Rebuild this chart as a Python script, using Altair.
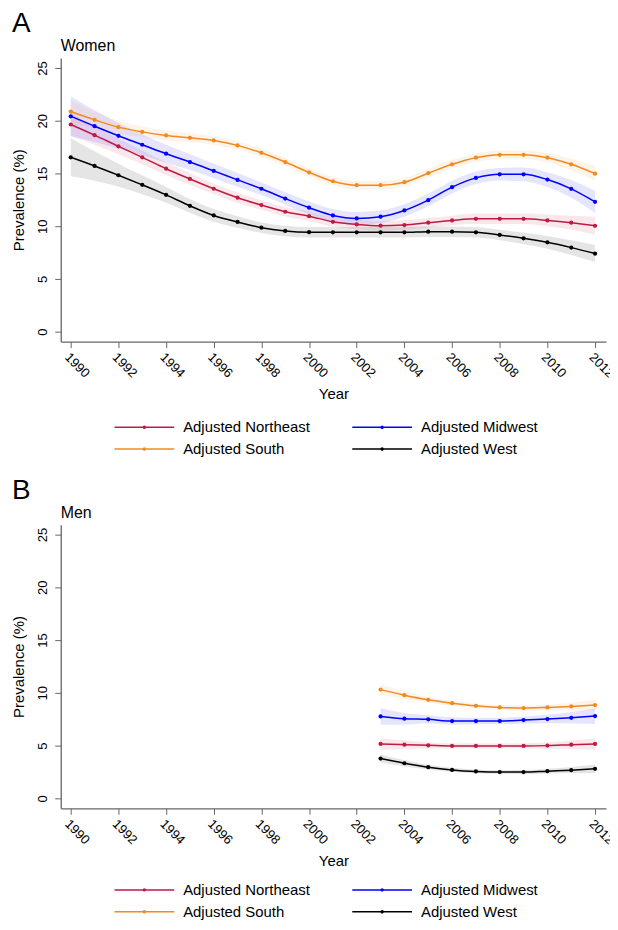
import altair as alt
import pandas as pd

# ---------------- data ----------------
labels = ["Adjusted Northeast", "Adjusted Midwest", "Adjusted South", "Adjusted West"]
colors = ["#be1a44", "#0000ff", "#f28a1e", "#000000"]

years_women = list(range(1990, 2013))
women_ne = [19.64, 18.63, 17.57, 16.53, 15.45, 14.48, 13.55, 12.70, 12.00, 11.37, 10.95,
            10.42, 10.17, 10.05, 10.11, 10.33, 10.55, 10.70, 10.70, 10.70, 10.55, 10.33, 10.04]
women_mw = [20.42, 19.48, 18.57, 17.72, 16.87, 16.08, 15.24, 14.39, 13.55, 12.62, 11.75,
            11.02, 10.74, 10.90, 11.49, 12.47, 13.70, 14.58, 14.92, 14.92, 14.42, 13.54, 12.31]
women_s = [20.87, 20.08, 19.39, 18.94, 18.60, 18.38, 18.13, 17.66, 16.96, 16.08, 15.10,
           14.26, 13.89, 13.89, 14.17, 15.02, 15.87, 16.49, 16.77, 16.77, 16.49, 15.87, 14.98]
women_w = [16.53, 15.71, 14.83, 13.92, 12.97, 11.93, 11.02, 10.40, 9.86, 9.55, 9.43,
           9.42, 9.42, 9.42, 9.42, 9.48, 9.48, 9.42, 9.17, 8.85, 8.47, 7.97, 7.41]
# half-widths of the confidence bands (read from the shading)
women_ne_hw = [1.1, 0.9, 0.75, 0.65, 0.6, 0.55, 0.5, 0.5, 0.45, 0.45, 0.45, 0.45,
               0.45, 0.45, 0.45, 0.45, 0.45, 0.5, 0.5, 0.5, 0.55, 0.65, 0.85]
women_mw_hw = [1.9, 1.5, 1.2, 1.0, 0.85, 0.75, 0.7, 0.65, 0.6, 0.6, 0.6, 0.6,
               0.6, 0.6, 0.6, 0.6, 0.6, 0.6, 0.6, 0.65, 0.7, 0.85, 1.05]
women_s_hw = [1.1, 0.8, 0.6, 0.5, 0.45, 0.4, 0.4, 0.4, 0.4, 0.4, 0.4, 0.4,
              0.4, 0.4, 0.4, 0.4, 0.4, 0.4, 0.4, 0.4, 0.45, 0.55, 0.7]
women_w_hw = [1.8, 1.4, 1.1, 0.9, 0.75, 0.65, 0.6, 0.55, 0.5, 0.5, 0.5, 0.5,
              0.5, 0.5, 0.5, 0.5, 0.5, 0.5, 0.5, 0.55, 0.6, 0.7, 0.8]

years_men = list(range(2003, 2013))
men_ne = [5.16, 5.09, 5.03, 4.97, 4.97, 4.97, 4.97, 5.00, 5.09, 5.16]
men_mw = [7.77, 7.55, 7.49, 7.33, 7.33, 7.33, 7.42, 7.52, 7.64, 7.80]
men_s = [10.31, 9.78, 9.34, 9.02, 8.77, 8.62, 8.56, 8.62, 8.71, 8.84]
men_w = [3.77, 3.33, 2.96, 2.70, 2.55, 2.49, 2.49, 2.58, 2.67, 2.80]
men_ne_hw = [0.55, 0.4, 0.3, 0.25, 0.25, 0.25, 0.25, 0.3, 0.4, 0.55]
men_mw_hw = [0.8, 0.55, 0.4, 0.35, 0.3, 0.3, 0.35, 0.4, 0.55, 0.75]
men_s_hw = [0.5, 0.35, 0.28, 0.25, 0.22, 0.22, 0.25, 0.28, 0.35, 0.5]
men_w_hw = [0.4, 0.3, 0.22, 0.2, 0.18, 0.18, 0.2, 0.22, 0.3, 0.4]

x_ticks = list(range(1990, 2013, 2))
y_ticks = [0, 5, 10, 15, 20, 25]


def build(years, series, hws):
    rows = []
    for lab, vals, hw in zip(labels, series, hws):
        for yr, v, h in zip(years, vals, hw):
            rows.append({"year": yr, "region": lab, "value": v,
                         "lo": v - h, "hi": v + h})
    return pd.DataFrame(rows)


df_w = build(years_women, [women_ne, women_mw, women_s, women_w],
             [women_ne_hw, women_mw_hw, women_s_hw, women_w_hw])
df_m = build(years_men, [men_ne, men_mw, men_s, men_w],
             [men_ne_hw, men_mw_hw, men_s_hw, men_w_hw])

FONT = "Liberation Sans"
# line (60px wide at size 400) with a small dot in its middle
LEG_SYMBOL = ("M-3,0L3,0M-0.1,0a0.1,0.1 0 1,0 0.2,0"
              "a0.1,0.1 0 1,0 -0.2,0")

color_scale = alt.Scale(domain=labels, range=colors)


def panel(df, title, legend_y):
    x = alt.X("year:Q",
              scale=alt.Scale(domain=[1989.58, 2012.46], nice=False, zero=False),
              axis=alt.Axis(values=x_ticks, format="d", title="Year",
                            labelAngle=45, labelAlign="left", labelBaseline="top",
                            labelPadding=3, titlePadding=7))
    y = alt.Y("value:Q",
              scale=alt.Scale(domain=[-0.94, 25.94], nice=False, zero=False),
              axis=alt.Axis(values=y_ticks, title="Prevalence (%)",
                            labelAngle=270, labelAlign="center",
                            labelBaseline="bottom", labelPadding=5,
                            titlePadding=10))
    base = alt.Chart(df)
    band = base.mark_area(opacity=0.1, interpolate="monotone").encode(
        x=x, y=alt.Y("lo:Q"), y2="hi:Q",
        fill=alt.Fill("region:N", scale=color_scale, legend=None))
    line = base.mark_line(strokeWidth=1.5, interpolate="monotone").encode(
        x=x, y=y,
        color=alt.Color("region:N", scale=color_scale,
                        legend=alt.Legend(title=None, orient="none",
                                          legendX=73, legendY=legend_y,
                                          direction="horizontal",
                                          columns=2, symbolType=LEG_SYMBOL,
                                          symbolSize=400, symbolStrokeWidth=1.5,
                                          labelFontSize=15, labelFont=FONT,
                                          labelColor="#000000",
                                          labelOffset=28, columnPadding=39,
                                          rowPadding=3)))
    pts = base.mark_circle(size=18, opacity=1).encode(
        x=x, y=y,
        color=alt.Color("region:N", scale=color_scale, legend=None))
    return alt.layer(band, line, pts).properties(
        width=548, height=285,
        title=alt.TitleParams(title, anchor="start", frame="group",
                              fontSize=16, fontWeight="normal", font=FONT,
                              offset=4))


pA = alt.vconcat(panel(df_w, "Women", 360)).properties(
    title=alt.TitleParams("A", anchor="start", frame="bounds", fontSize=28,
                          fontWeight="normal", font=FONT, offset=0))
pB = alt.vconcat(panel(df_m, "Men", 356)).properties(
    title=alt.TitleParams("B", anchor="start", frame="bounds", fontSize=28,
                          fontWeight="normal", font=FONT, offset=0))

chart = alt.vconcat(pA, pB, spacing=20).resolve_legend(
    color="independent").properties(
    padding={"left": 3, "top": 0, "right": -6, "bottom": 0}).configure(
    font=FONT).configure_view(stroke=None).configure_axis(
    grid=False, domainColor="#666666", tickColor="#666666", domainWidth=1.3,
    tickSize=6, labelFont=FONT, titleFont=FONT, labelFontSize=13,
    titleFontSize=15, titleFontWeight="normal", labelColor="#000000",
    titleColor="#000000")

chart.save("out.html", embed_options={"renderer": "svg", "actions": False})
